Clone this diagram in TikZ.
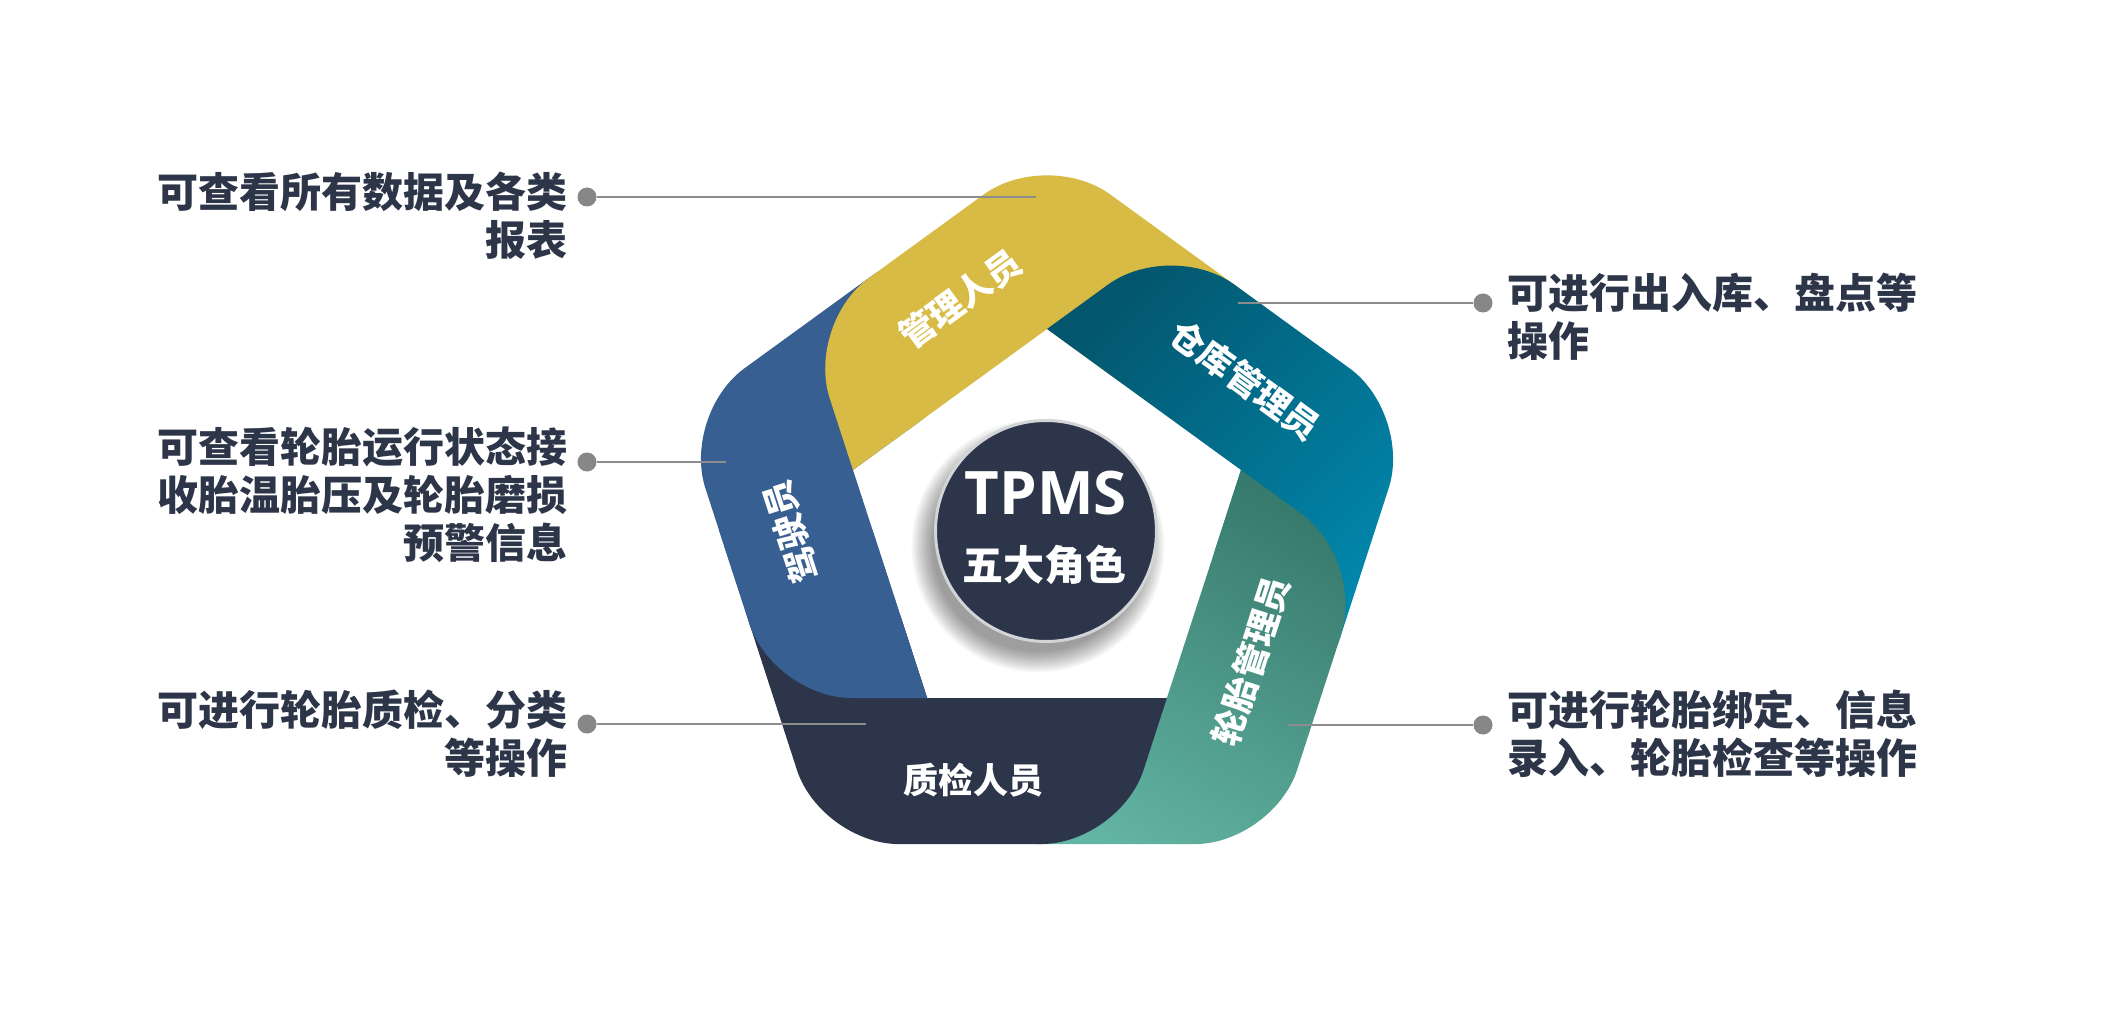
\documentclass[tikz,border=0pt]{standalone}
\usepackage{fontspec}
\setmainfont{Noto Sans CJK SC}
\newfontfamily\fontlatine{Open Sans}

\definecolor{bandyellow}{RGB}{216,187,68}
\definecolor{tealdark}{RGB}{3,86,110}
\definecolor{teallight}{RGB}{1,140,178}
\definecolor{greendark}{RGB}{55,122,110}
\definecolor{greenlight}{RGB}{99,181,164}
\definecolor{bandnavy}{RGB}{44,53,73}
\definecolor{bandblue}{RGB}{55,95,145}
\definecolor{textnavy}{RGB}{45,53,72}
\definecolor{dotgray}{RGB}{135,135,135}
\definecolor{linegray}{RGB}{140,140,140}
\definecolor{ringgray}{RGB}{210,212,216}

% bande du conducteur (dessinee deux fois)
\newcommand{\bandeBleu}{(927.1,698) -- (773.6,698) -- (681.3,414.2) -- (935,229.9) -- (982.4,375.9) -- (853,470)}

\begin{document}
\begin{tikzpicture}[x=1pt, y=-1pt,
    bande/.style={rounded corners=78pt},
    etiq/.style={text=white, font=\bfseries\fontsize{35}{40}\selectfont, inner sep=0pt},
    texte/.style={text=textnavy, font=\bfseries\fontsize{41}{48}\selectfont, inner sep=0pt},
    pastille/.style={circle, fill=dotgray, minimum size=19pt, inner sep=0pt},
    trait/.style={linegray, line width=2pt}]

    \fill[white] (0,0) rectangle (2104,1032);

    % Ombre du cercle
    \foreach \k in {1,...,14}
        \fill[black, opacity=0.03] (1038,546) circle ({104pt+1.6pt*\k});

    % Bandes
    \fill[bandblue, bande] \bandeBleu;
    \fill[bandyellow, bande] (853,470) -- (805.6,324) -- (1047,148.5) -- (1300.6,332.8) -- (1176.4,423.1) -- (1047,329);
    \shade[top color=tealdark, bottom color=teallight, shading angle=45, bande]
        (1047,329) -- (1171.2,238.7) -- (1412.7,414.2) -- (1315.8,712.5) -- (1191.6,622.2) -- (1241,470);
    \shade[top color=greendark, bottom color=greenlight, shading angle=-30, bande]
        (1241,470) -- (1365.2,560.3) -- (1273,844.1) -- (959.5,844) -- (1006.9,698) -- (1166.9,698);
    \fill[bandnavy, bande] (1166.9,698) -- (1119.5,844) -- (821,844.1) -- (724.2,545.8) -- (877.7,545.8) -- (927.1,698);
    \begin{scope}
        \clip (650,530) rectangle (1000,900);
        \fill[bandblue, bande] \bandeBleu;
    \end{scope}

    % Cercle central
    \node[circle, fill=bandnavy, draw=ringgray, line width=3pt, minimum size=221pt, inner sep=0pt] (centre) at (1046,531) {};
    \node[text=white, font=\fontlatine\bfseries\fontsize{60}{60}\selectfont] (tpms) at (1046,493) {TPMS};
    \node[text=white, font=\bfseries\fontsize{41}{41}\selectfont] (roles) at (1044,565) {五大角色};

    % Libelles des bandes
    \node[etiq, rotate=36] (gestion) at (960,299) {管理人员};
    \node[etiq, rotate=-36] (magasin) at (1245,380) {仓库管理员};
    \node[etiq, rotate=72] (pneus) at (1251,661) {轮胎管理员};
    \node[etiq] (qualite) at (973,780) {质检人员};
    \node[etiq, rotate=108] (conducteur) at (791,532) {驾驶员};

    % Textes
    \node[texte, anchor=north east, align=right] (t1) at (568,172) {可查看所有数据及各类\\报表};
    \node[texte, anchor=north east, align=right] (t2) at (568,427) {可查看轮胎运行状态接\\收胎温胎压及轮胎磨损\\预警信息};
    \node[texte, anchor=north east, align=right] (t3) at (568,690) {可进行轮胎质检、分类\\等操作};
    \node[texte, anchor=north west, align=left] (t4) at (1507,273) {可进行出入库、盘点等\\操作};
    \node[texte, anchor=north west, align=left] (t5) at (1507,690) {可进行轮胎绑定、信息\\录入、轮胎检查等操作};

    % Pastilles et traits
    \node[pastille] (p1) at (587,197) {};
    \node[pastille] (p2) at (587,462) {};
    \node[pastille] (p3) at (587,724) {};
    \node[pastille] (p4) at (1483,303) {};
    \node[pastille] (p5) at (1483,725) {};
    \coordinate (e1) at (1036,197);
    \coordinate (e2) at (726,462);
    \coordinate (e3) at (866,724);
    \coordinate (e4) at (1238,303);
    \coordinate (e5) at (1288,725);
    \draw[trait] (p1) -- (e1);
    \draw[trait] (p2) -- (e2);
    \draw[trait] (p3) -- (e3);
    \draw[trait] (p4) -- (e4);
    \draw[trait] (p5) -- (e5);
\end{tikzpicture}
\end{document}
